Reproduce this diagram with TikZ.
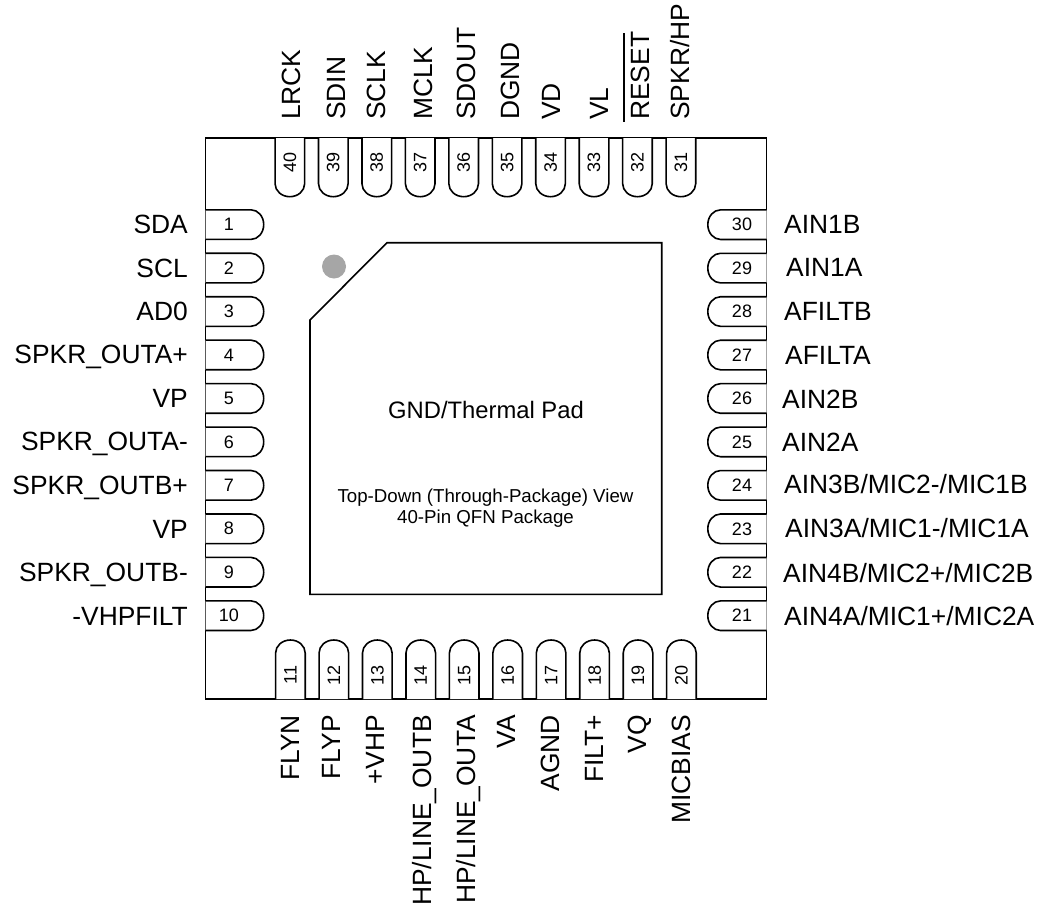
\documentclass[tikz,border=0pt]{standalone}
\usepackage{fontspec}
\setmainfont{Liberation Sans}
\definecolor{dotgrey}{HTML}{A6A6A6}
\tikzset{
  x=1pt,y=-1pt,
  outline/.style={draw=black,line width=1.6pt,line join=miter},
  pinbody/.style={draw=black,line width=1.6pt,fill=white},
  pinnum/.style={font=\fontsize{18}{20}\selectfont,inner sep=0pt,text=black},
  pinname/.style={font=\fontsize{26.4}{28}\selectfont,inner sep=0pt,text=black},
  bigtext/.style={font=\fontsize{23.8}{26}\selectfont,inner sep=0pt,text=black},
  padtext/.style={font=\fontsize{18.7}{21.5}\selectfont,inner sep=0pt,align=center,text=black},
}
\begin{document}
\begin{tikzpicture}
\useasboundingbox (0,0) rectangle (1039,905);
\draw[outline] (205.5,138) rectangle (766.5,699);
\draw[outline] (387,242.7) -- (661.7,242.7) -- (661.7,594.3) -- (310,594.3) -- (310,320) -- cycle;
\fill[dotgrey] (334,266.5) circle (12);
\def\pitch{43.45}
\def\hw{14.8}
% left pins 1-10
\foreach \n in {1,...,10}{
  \pgfmathsetmacro\c{224.6+(\n-1)*\pitch}
  \draw[pinbody] (205.5,\c-\hw) -- (251,\c-\hw) arc[start angle=-90,end angle=90,x radius=12.7,y radius=14.8] -- (205.5,\c+\hw);
  \node[pinnum] (p\n) at (229,\c) {\n};
}
% right pins 21-30
\foreach \n in {21,...,30}{
  \pgfmathsetmacro\c{615.7-(\n-21)*\pitch}
  \draw[pinbody] (766.5,\c-\hw) -- (720.5,\c-\hw) arc[start angle=-90,end angle=-270,x radius=12.7,y radius=14.8] -- (766.5,\c+\hw);
  \node[pinnum] (p\n) at (742,\c) {\n};
}
% bottom pins 11-20
\foreach \n in {11,...,20}{
  \pgfmathsetmacro\c{290.4+(\n-11)*\pitch}
  \draw[pinbody] (\c-\hw,699) -- (\c-\hw,653) arc[start angle=180,end angle=360,x radius=14.8,y radius=13] -- (\c+\hw,699);
  \node[pinnum,rotate=90] (p\n) at (\c,675) {\n};
}
% top pins 31-40
\foreach \n in {31,...,40}{
  \pgfmathsetmacro\c{680.9-(\n-31)*\pitch}
  \draw[pinbody] (\c-\hw,138) -- (\c-\hw,183.7) arc[start angle=180,end angle=0,x radius=14.8,y radius=13] -- (\c+\hw,138);
  \node[pinnum,rotate=90] (p\n) at (\c,162.5) {\n};
}
% left labels
\foreach \n/\t/\y in {1/SDA/233.4,2/SCL/277,3/AD0/320,4/SPKR\_OUTA+/363.5,5/VP/407,6/SPKR\_OUTA-/450,7/SPKR\_OUTB+/494.5,8/VP/538,9/SPKR\_OUTB-/581,10/-VHPFILT/625}{
  \node[pinname,anchor=base east] (l\n) at (188,\y) {\t};
}
% right labels
\node[pinname,anchor=base west] (l30) at (784,233) {AIN1B};
\node[pinname,anchor=base west] (l29) at (786,276.8) {AIN1A};
\node[pinname,anchor=base west] (l28) at (784,320) {AFILTB};
\node[pinname,anchor=base west] (l27) at (785,364) {AFILTA};
\node[pinname,anchor=base west] (l26) at (782,408) {AIN2B};
\node[pinname,anchor=base west] (l25) at (782,451) {AIN2A};
\node[pinname,anchor=base west] (l24) at (784,493.5) {AIN3B/MIC2-/MIC1B};
\node[pinname,anchor=base west] (l23) at (785,537) {AIN3A/MIC1-/MIC1A};
\node[pinname,anchor=base west] (l22) at (783,582) {AIN4B/MIC2+/MIC2B};
\node[pinname,anchor=base west] (l21) at (784,625) {AIN4A/MIC1+/MIC2A};
% top labels
\node[pinname,rotate=90,anchor=base west] (l40) at (300.7,120) {LRCK};
\node[pinname,rotate=90,anchor=base west] (l39) at (345,120) {SDIN};
\node[pinname,rotate=90,anchor=base west] (l38) at (385,120) {SCLK};
\node[pinname,rotate=90,anchor=base west] (l37) at (432.7,120) {MCLK};
\node[pinname,rotate=90,anchor=base west] (l36) at (475,120) {SDOUT};
\node[pinname,rotate=90,anchor=base west] (l35) at (519,120) {DGND};
\node[pinname,rotate=90,anchor=base west] (l34) at (560,120) {VD};
\node[pinname,rotate=90,anchor=base west] (l33) at (608,120) {VL};
\node[pinname,rotate=90,anchor=base west] (l32) at (649,120) {RESET};
\node[pinname,rotate=90,anchor=base west] (l31) at (689,120) {SPKR/HP};
\draw[line width=1.6pt] (624,33) -- (624,122);
% bottom labels
\node[pinname,rotate=90,anchor=base east] (l11) at (299.3,715) {FLYN};
\node[pinname,rotate=90,anchor=base east] (l12) at (340.7,715) {FLYP};
\node[pinname,rotate=90,anchor=base east] (l13) at (384,715) {+VHP};
\node[pinname,rotate=90,anchor=base east] (l14) at (431.7,715) {HP/LINE\_OUTB};
\node[pinname,rotate=90,anchor=base east] (l15) at (475,715) {HP/LINE\_OUTA};
\node[pinname,rotate=90,anchor=base east] (l16) at (515,715) {VA};
\node[pinname,rotate=90,anchor=base east] (l17) at (559,715) {AGND};
\node[pinname,rotate=90,anchor=base east] (l18) at (603,715) {FILT+};
\node[pinname,rotate=90,anchor=base east] (l19) at (646.7,715) {VQ};
\node[pinname,rotate=90,anchor=base east] (l20) at (690,715) {MICBIAS};
% pad
\node[bigtext] (gnd) at (486,410) {GND/Thermal Pad};
\node[padtext] (view) at (485.5,508) {Top-Down (Through-Package) View\\40-Pin QFN Package};
\end{tikzpicture}
\end{document}
